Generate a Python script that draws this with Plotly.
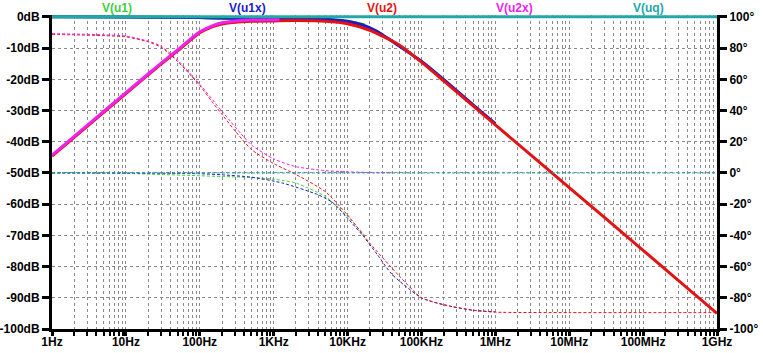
import plotly.graph_objects as go

# ---------------- data ----------------
# V(uq): reference, flat
f_uq = [1, 10, 100, 1e3, 1e4, 1e5, 1e6, 1e7, 1e8, 1e9]
mag_uq = [0, 0, 0, 0, 0, 0, 0, 0, 0, 0]
ph_uq = [0, 0, 0, 0, 0, 0, 0, 0, 0, 0]

# V(u1): green
f_u1 = [1, 10, 30, 100, 200, 300, 1e3, 2e3, 5e3, 7e3, 1e4, 1.7e4]
mag_u1 = [0, 0, -0.1, -0.2, -0.5, -0.6, -0.7, -0.8, -0.9, -1.1, -1.5, -2.5]
ph_u1 = [0, -0.3, -1.0, -1.8, -2.3, -2.5, -4.0, -6.5, -15, -21, -28, -40]

# V(u1x): blue
f_u1x = [1, 100, 200, 500, 1.3e3, 4e3, 6.3e3, 1e4, 1.6e4, 2.5e4, 4e4, 1e5, 2.5e5, 5e5, 1e6]
mag_u1x = [0, -0.2, -0.4, -0.6, -0.6, -0.7, -0.9, -1.4, -2.6, -4.6, -7.8, -14.2, -22, -28.2, -34.2]
ph_u1x = [0, -0.5, -1.2, -2.7, -6.4, -14, -19, -29, -40, -52, -65, -80, -85.5, -88, -89]

# V(u2): red
f_u2 = [1, 2, 5, 10, 20, 30, 50, 100, 150, 200, 300, 500, 1e3, 2e3, 5e3, 1e4, 2e4,
        5e4, 1e5, 2e5, 5e5, 1e6, 1e7, 1e8, 1e9]
mag_u2 = [-44.6, -38.6, -30.6, -24.6, -18.6, -15.1, -10.9, -5.1, -3.1, -2.3, -1.7, -1.4,
          -1.3, -1.2, -1.4, -2.2, -4.3, -9.0, -14.5, -20.5, -28.5, -34.6, -54.7, -74.8, -95]
ph_u2 = [88.8, 88.5, 88, 87.2, 84, 80.5, 71.5, 56, 45, 37.5, 27, 15, 6, -1, -12, -27, -45,
         -66, -80, -84.5, -88, -89.2, -89.5, -89.5, -89.5]

# V(u2x): magenta
f_u2x = [1, 2, 5, 10, 20, 30, 50, 100, 150, 200, 300, 500, 1e3, 1.2e3]
mag_u2x = [-44.3, -38.3, -30.3, -24.3, -18.3, -14.8, -10.6, -4.8, -2.8, -1.9, -1.3, -1.0, -0.9, -0.9]
f_u2x_ph = [1, 2, 5, 10, 20, 30, 50, 100, 200, 500, 1e3, 2e3, 5e3, 1e4, 2e4, 4e4]
ph_u2x = [89.3, 89, 88.5, 87.7, 84.5, 81.2, 72.3, 56.8, 39.5, 18, 9, 4, 1.5, 0.7, 0.3, 0.1]

names = ["V(u1)", "V(u1x)", "V(u2)", "V(u2x)", "V(uq)"]
colors = ["#3fcf3f", "#1c1cc4", "#e41212", "#ee22ee", "#22a8a8"]
label_x_px = [117, 248, 382, 514, 648]

x_tickvals = [1, 10, 100, 1e3, 1e4, 1e5, 1e6, 1e7, 1e8, 1e9]
x_ticktext = ["1Hz", "10Hz", "100Hz", "1KHz", "10KHz", "100KHz", "1MHz", "10MHz", "100MHz", "1GHz"]
y_tickvals = [0, -10, -20, -30, -40, -50, -60, -70, -80, -90, -100]
y_ticktext = ["0dB", "-10dB", "-20dB", "-30dB", "-40dB", "-50dB", "-60dB", "-70dB", "-80dB", "-90dB", "-100dB"]
y2_tickvals = [100, 80, 60, 40, 20, 0, -20, -40, -60, -80, -100]
y2_ticktext = ["100°", "80°", "60°", "40°", "20°", "0°", "-20°", "-40°", "-60°", "-80°", "-100°"]

# ---------------- figure ----------------
W, H = 763, 353
L, R, B = 52, 46, 24
plot_top = 17          # pixel of 0 dB
extra_db = 0.6         # a little headroom so the 0 dB line is not clipped
px_per_db = (329 - 17) / 100.0
T = plot_top - extra_db * px_per_db

fig = go.Figure()

series = [
    (f_u1, mag_u1, f_u1, ph_u1, colors[0]),
    (f_u1x, mag_u1x, f_u1x, ph_u1x, colors[1]),
    (f_u2, mag_u2, f_u2, ph_u2, colors[2]),
    (f_u2x, mag_u2x, f_u2x_ph, ph_u2x, colors[3]),
    (f_uq, mag_uq, f_uq, ph_uq, colors[4]),
]
for i, ((fm, m, fp, p, c), nm) in enumerate(zip(series, names)):
    last = i == len(series) - 1
    fig.add_trace(go.Scatter(x=fm, y=m, mode="lines", name=nm,
                             line=dict(color=c, width=3, shape="spline", smoothing=0.6),
                             xaxis="x", yaxis="y", showlegend=False, hoverinfo="skip"))
    # the last phase trace sits on the twin x axis (identical scale) so its decade ticks render
    fig.add_trace(go.Scatter(x=fp, y=p, mode="lines", name=nm + " phase",
                             line=dict(color=c, width=1, dash="3px,2px", shape="spline", smoothing=0.6),
                             xaxis="x2" if last else "x", yaxis="y2",
                             showlegend=False, hoverinfo="skip"))

minor_vals = [m * 10 ** d for d in range(0, 9) for m in range(2, 10)]

font = dict(family="Liberation Sans, Arial, sans-serif", size=12, color="black", weight="bold")
grid = dict(gridcolor="#8a8a8a", gridwidth=1, griddash="3px,3px")

fig.update_layout(
    width=W, height=H,
    margin=dict(l=L, r=R, t=T, b=B, pad=0, autoexpand=False),
    paper_bgcolor="white", plot_bgcolor="white",
    font=font,
    xaxis=dict(type="log", range=[0, 9], tickvals=x_tickvals, ticktext=x_ticktext,
               ticks="outside", ticklen=0, tickwidth=3, tickcolor="black",
               showline=True, linewidth=3, linecolor="black", zeroline=False,
               showgrid=True, **grid, tickfont=font, automargin=False,
               minor=dict(tickvals=minor_vals, ticks="outside", ticklen=4, tickwidth=2,
                          tickcolor="black", showgrid=True, **grid)),
    # twin x axis, same scale, only to draw the longer decade tick marks
    xaxis2=dict(type="log", range=[0, 9], overlaying="x", side="bottom", anchor="y2",
                tickvals=x_tickvals, showticklabels=False, ticks="outside", ticklen=6,
                tickwidth=3, tickcolor="black", showgrid=False, showline=False,
                zeroline=False, automargin=False),
    yaxis=dict(range=[-100, extra_db], tickvals=y_tickvals, ticktext=y_ticktext,
               ticks="outside", ticklen=7, tickwidth=3, tickcolor="black",
               showline=True, linewidth=3, linecolor="black", zeroline=False,
               showgrid=True, **grid, tickfont=font, automargin=False),
    yaxis2=dict(range=[-100, 100 + 2 * extra_db], overlaying="y", side="right",
                tickvals=y2_tickvals, ticktext=y2_ticktext,
                ticks="outside", ticklen=7, tickwidth=3, tickcolor="black",
                showline=True, linewidth=3, linecolor="black", zeroline=False,
                showgrid=False, tickfont=font, automargin=False),
)

plot_w = W - L - R
plot_h = H - T - B
for nm, c, px in zip(names, colors, label_x_px):
    fig.add_annotation(text=nm, xref="paper", yref="paper",
                       x=(px - L) / plot_w, y=1 + (T - 8) / plot_h,
                       xanchor="center", yanchor="middle", showarrow=False,
                       font=dict(family="Liberation Sans, Arial, sans-serif", size=12,
                                 color=c, weight="bold"))

fig.write_html("out.html")
